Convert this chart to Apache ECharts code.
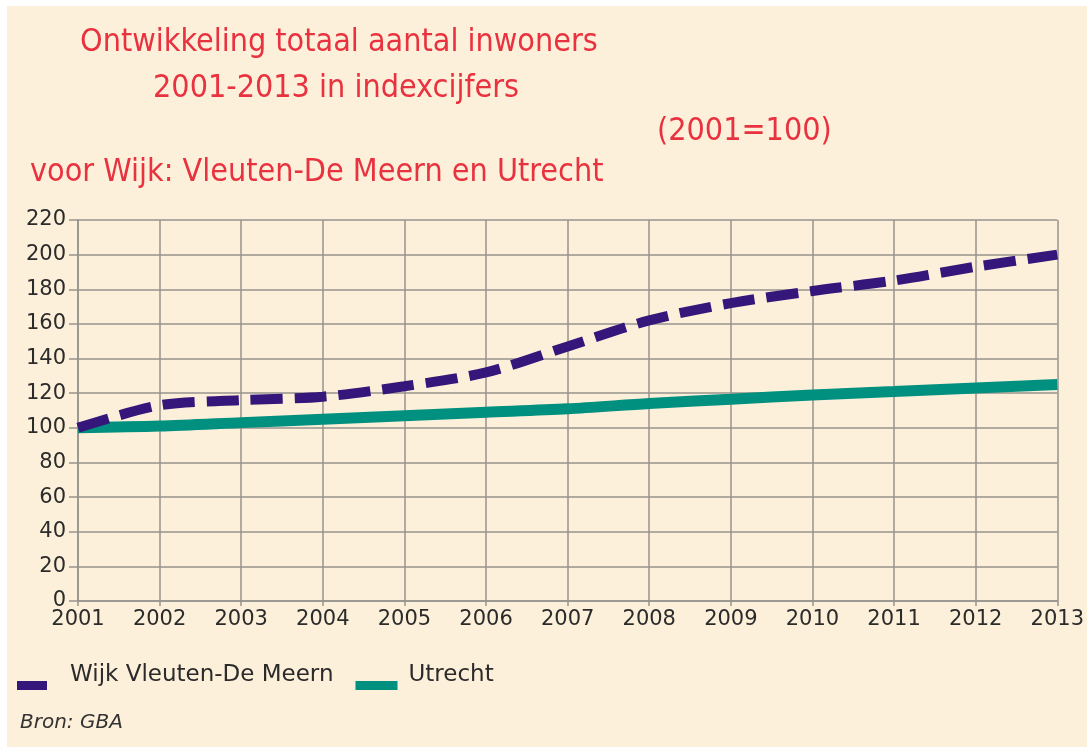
<!DOCTYPE html>
<html>
<head>
<meta charset="utf-8">
<script src="https://cdn.jsdelivr.net/npm/echarts@6/dist/echarts.min.js"></script>
<style>
  html, body { margin: 0; padding: 0; background: #fff; }
  #main { position: absolute; left: 7px; top: 6px; width: 1080px; height: 741px; }
</style>
</head>
<body>
<div id="main"></div>
<script>
const years = ['2001', '2002', '2003', '2004', '2005', '2006', '2007', '2008', '2009', '2010', '2011', '2012', '2013'];
const vleuten = [100, 113, 116, 118, 124, 132, 147, 162, 172, 179, 185, 193, 200];
const utrecht = [100, 101, 103, 105, 107, 109, 111, 114, 116.5, 119, 121, 123, 125];

const titleLines = [
  'Ontwikkeling totaal aantal inwoners',
  '2001-2013 in indexcijfers',
  '(2001=100)',
  'voor Wijk: Vleuten-De Meern en Utrecht'
];
const titlePos = [[73, 21], [146, 67], [650, 110], [23, 151]];

const red = '#e8323f';
const purple = '#35167a';
const teal = '#00907f';
const gridGray = '#96938c';
const condensed = '"DejaVu Sans Condensed", "DejaVu Sans", sans-serif';
const font = '"DejaVu Sans", sans-serif';

// legend icons: a hairline on top widens the box so the bar sits low and left
const purpleIcon = 'path://M0,0L48,0L48,0.01Z M0,20L30,20L30,29L0,29Z';
const tealIcon = 'path://M0,0L48,0L48,0.01Z M0,20L42,20L42,29L0,29Z';

const chart = echarts.init(document.getElementById('main'));

chart.setOption({
  backgroundColor: '#fdf0da',
  animation: false,
  title: titleLines.map((t, i) => ({
    text: t,
    left: titlePos[i][0],
    top: titlePos[i][1],
    padding: 0,
    textStyle: { color: red, fontFamily: condensed, fontSize: 32, fontWeight: 'normal' }
  })),
  legend: {
    left: 5,
    top: 650,
    itemWidth: 48,
    itemHeight: 29,
    itemGap: 22,
    textStyle: { color: '#2b2b2b', fontFamily: font, fontSize: 23 },
    data: [
      { name: 'Wijk Vleuten-De Meern', icon: purpleIcon },
      { name: 'Utrecht', icon: tealIcon }
    ]
  },
  graphic: [{
    type: 'text',
    left: 13,
    top: 707,
    style: { text: 'Bron: GBA', fill: '#333', font: 'italic 20px ' + font }
  }],
  grid: { left: 71, right: 29, top: 214, bottom: 146 },
  xAxis: {
    type: 'category',
    data: years,
    boundaryGap: false,
    axisLine: { lineStyle: { color: gridGray, width: 1.5 } },
    axisTick: { show: true, length: 5, lineStyle: { color: gridGray, width: 1.5 } },
    axisLabel: { color: '#2b2b2b', fontFamily: font, fontSize: 21, margin: 8 },
    splitLine: { show: true, lineStyle: { color: gridGray, width: 1.5 } }
  },
  yAxis: {
    type: 'value',
    min: 0,
    max: 220,
    interval: 20,
    axisLine: { show: true, lineStyle: { color: gridGray, width: 1.5 } },
    axisTick: { show: true, length: 9, lineStyle: { color: gridGray, width: 1.5 } },
    axisLabel: { color: '#2b2b2b', fontFamily: font, fontSize: 21, margin: 12 },
    splitLine: { show: true, lineStyle: { color: gridGray, width: 1.5 } }
  },
  series: [
    {
      name: 'Wijk Vleuten-De Meern',
      type: 'line',
      data: vleuten,
      smooth: 0.3,
      symbol: 'none',
      color: purple,
      z: 3,
      lineStyle: { color: purple, width: 10, type: [32, 12] }
    },
    {
      name: 'Utrecht',
      type: 'line',
      data: utrecht,
      smooth: 0.3,
      symbol: 'none',
      color: teal,
      z: 2,
      lineStyle: { color: teal, width: 11 }
    }
  ]
});
</script>
</body>
</html>
